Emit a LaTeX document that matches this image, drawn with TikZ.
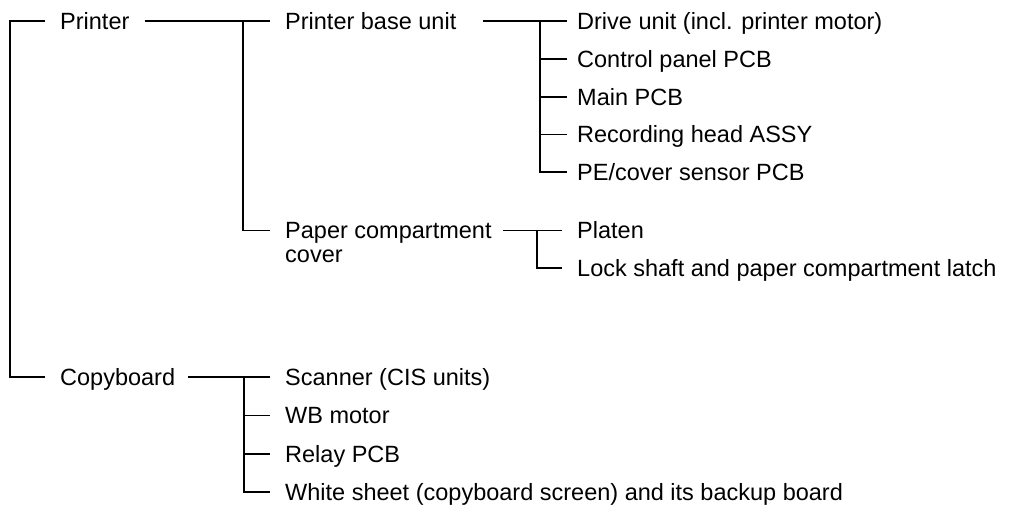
\documentclass[tikz,border=0pt]{standalone}
\usepackage{fontspec}
\setmainfont{Liberation Sans}
\begin{document}
\begin{tikzpicture}[x=1pt,y=-1pt,
  lbl/.style={font=\fontsize{23.5}{28}\selectfont, inner sep=0pt, anchor=west,
              text height=16.8pt, text depth=0pt},
  conn/.style={line width=1.4pt, black}]
\useasboundingbox (0,0) rectangle (1012,505);
% level 1
\node[lbl] (printer) at (60,21) {Printer};
\node[lbl] (copy) at (60,377) {Copyboard};
% level 2
\node[lbl] (pbu) at (285,21) {Printer base unit};
\node[lbl] (pc) at (285,230.5) {Paper compartment};
\node[lbl, anchor=base west] (pc2) at ([yshift=-24pt]pc.base west) {cover};
% level 3 (printer base unit)
\node[lbl] (drive) at (577,21) {Drive unit (incl. printer motor)};
\node[lbl] (ctrl) at (577,59) {Control panel PCB};
\node[lbl] (main) at (577,97) {Main PCB};
\node[lbl] (rec) at (577,134.5) {Recording head ASSY};
\node[lbl] (pe) at (577,172) {PE/cover sensor PCB};
% level 3 (paper compartment cover)
\node[lbl] (platen) at (577,230.5) {Platen};
\node[lbl] (lock) at (577,268) {Lock shaft and paper compartment latch};
% level 2 (copyboard)
\node[lbl] (scan) at (285,377) {Scanner (CIS units)};
\node[lbl] (wb) at (285,415.5) {WB motor};
\node[lbl] (relay) at (285,454) {Relay PCB};
\node[lbl] (white) at (285,492) {White sheet (copyboard screen) and its backup board};
% junctions
\coordinate (j0) at (10,21);
\coordinate (j1) at (243,21);
\coordinate (j2) at (540,21);
\coordinate (j3) at (537,230.5);
\coordinate (j4) at (244,377);
% root
\draw[conn] ([xshift=-15pt]printer.west) -- (j0) |- ([xshift=-15pt]copy.west);
% printer
\draw[conn] ([xshift=15pt]printer.east) -- ([xshift=-15pt]pbu.west);
\draw[conn] (j1) |- ([xshift=-15pt]pc.west);
% printer base unit
\draw[conn] ([xshift=26pt]pbu.east) -- ([xshift=-10pt]drive.west);
\draw[conn] (j2) |- ([xshift=-10pt]pe.west);
\draw[conn] (j2 |- ctrl.west) -- ([xshift=-10pt]ctrl.west);
\draw[conn] (j2 |- main.west) -- ([xshift=-10pt]main.west);
\draw[conn] (j2 |- rec.west) -- ([xshift=-10pt]rec.west);
% paper compartment cover
\draw[conn] ([xshift=11pt]pc.east) -- ([xshift=-15pt]platen.west);
\draw[conn] (j3) |- ([xshift=-15pt]lock.west);
% copyboard
\draw[conn] ([xshift=13pt]copy.east) -- ([xshift=-15pt]scan.west);
\draw[conn] (j4) |- ([xshift=-15pt]white.west);
\draw[conn] (j4 |- wb.west) -- ([xshift=-15pt]wb.west);
\draw[conn] (j4 |- relay.west) -- ([xshift=-15pt]relay.west);
\end{tikzpicture}
\end{document}
